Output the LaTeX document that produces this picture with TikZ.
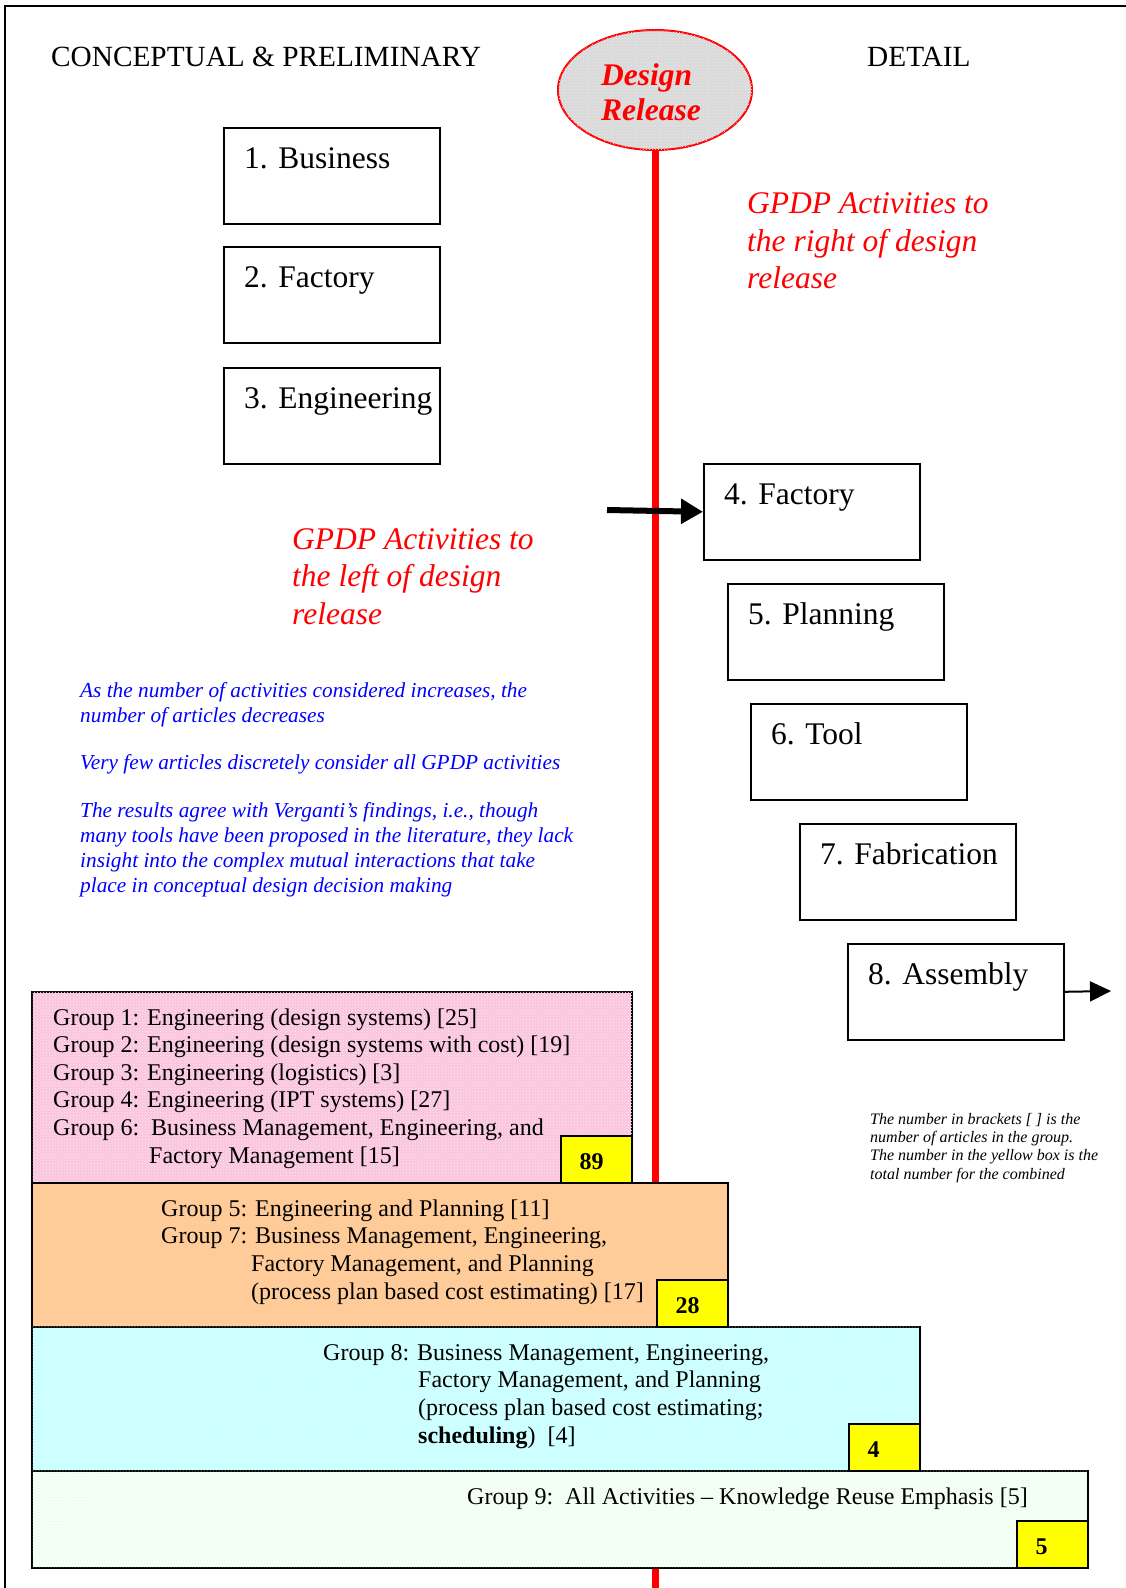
\documentclass[tikz,border=0pt]{standalone}
\usepackage{fontspec}
\setmainfont{Liberation Serif}
\usetikzlibrary{arrows.meta,patterns,shapes.geometric}

\definecolor{relred}{RGB}{255,0,0}
\definecolor{notebl}{RGB}{0,0,255}
\definecolor{pinkfill}{RGB}{250,196,222}
\definecolor{orangefill}{RGB}{255,204,153}
\definecolor{cyanfill}{RGB}{204,255,255}
\definecolor{greenfill}{RGB}{246,255,246}
\definecolor{greendot}{RGB}{200,250,200}
\definecolor{numyellow}{RGB}{255,255,0}

\newcommand{\fsz}[2]{\fontsize{#1}{#2}\selectfont}

\begin{document}
\begin{tikzpicture}[x=1pt,y=-1pt,
  stagebox/.style={draw,line width=1.6pt,minimum width=216pt,minimum height=96pt,
    inner sep=0pt,anchor=north west},
  stagelabel/.style={anchor=base west,inner sep=0pt,font=\fsz{31.5}{36}},
  heading/.style={anchor=base west,inner sep=0pt,font=\fsz{29.3}{33}},
  % multi-line blocks are placed by the baseline of their last line
  redtext/.style={anchor=base west,inner sep=0pt,align=left,text=relred,
    font=\fsz{31.5}{37.5}\itshape},
  groupbox/.style={draw,line width=1.6pt,inner sep=0pt,anchor=north west},
  grouptext/.style={anchor=base west,inner sep=0pt,align=left,font=\fsz{24}{27.6}},
  countbox/.style={draw,line width=1.6pt,fill=numyellow,inner sep=0pt,
    minimum width=71pt,minimum height=47pt,anchor=south east},
  countnum/.style={anchor=base west,inner sep=0pt,font=\fsz{24}{27}\bfseries},
]
\useasboundingbox (0,0) rectangle (1126,1588);

% page frame
\draw[line width=2.5pt] (5,1588) -- (5,6) -- (1126,6);

% design release marker and its line
\node[ellipse,draw=relred,line width=2pt,fill=gray!30,
  postaction={pattern=crosshatch dots,pattern color=white!85!gray},
  minimum width=194pt,minimum height=120pt,inner sep=0pt] (dr) at (655,90) {};
\coordinate (lineend) at (655,1588);
\draw[relred,line width=7pt] (dr.south) -- (lineend);
\node[inner sep=0pt,align=left,text=relred,font=\fsz{31.5}{35}\bfseries\itshape]
  (drtext) at (651,92) {Design\\Release};

% column headings
\node[heading] (hleft) at (51,66) {CONCEPTUAL \& PRELIMINARY};
\node[heading] (hright) at (867,66) {DETAIL};

% activity boxes
\node[stagebox] (b1) at (223,127) {};
\node[stagebox] (b2) at (223,246) {};
\node[stagebox] (b3) at (223,367) {};
\node[stagebox] (b4) at (703,463) {};
\node[stagebox] (b5) at (727,583) {};
\node[stagebox] (b6) at (750,703) {};
\node[stagebox] (b7) at (799,823) {};
\node[stagebox] (b8) at (847,943) {};
\path (b1.north west) ++(21,41) node[stagelabel] (l1) {1. Business};
\path (b2.north west) ++(21,41) node[stagelabel] (l2) {2. Factory};
\path (b3.north west) ++(21,41) node[stagelabel] (l3) {3. Engineering};
\path (b4.north west) ++(21,41) node[stagelabel] (l4) {4. Factory};
\path (b5.north west) ++(21,41) node[stagelabel] (l5) {5. Planning};
\path (b6.north west) ++(21,41) node[stagelabel] (l6) {6. Tool};
\path (b7.north west) ++(21,41) node[stagelabel] (l7) {7. Fabrication};
\path (b8.north west) ++(21,41) node[stagelabel] (l8) {8. Assembly};

% arrows
\coordinate (a4start) at (607,510);
\draw[line width=6pt,-{Triangle[length=22pt,width=24pt]}] (a4start) -- (b4.west);
\coordinate (a8end) at (1111,991);
\draw[line width=2pt,-{Triangle[length=21pt,width=20pt]}] (b8.east) -- (a8end);

% red captions
\node[redtext] (rright) at (747,288.5) {GPDP Activities to\\the right of design\\release};
\node[redtext] (rleft) at (292,624) {GPDP Activities to\\the left of design\\release};

% blue remarks
\node[anchor=base west,inner sep=0pt,align=left,text=notebl,font=\fsz{21.3}{24.8}\itshape]
  (remarks) at (80,892) {As the number of activities considered increases, the\\
  number of articles decreases\\[23pt]
  Very few articles discretely consider all GPDP activities\\[23pt]
  The results agree with Verganti’s findings, i.e., though\\
  many tools have been proposed in the literature, they lack\\
  insight into the complex mutual interactions that take\\
  place in conceptual design decision making};

% legend note
\node[anchor=base west,inner sep=0pt,align=left,font=\fsz{16}{18.3}\itshape]
  (legend) at (870,1179) {The number in brackets [ ] is the\\
  number of articles in the group.\\
  The number in the yellow box is the\\
  total number for the combined};

% article groups
\node[groupbox,fill=pinkfill,postaction={pattern=crosshatch dots,pattern color=white!70!pinkfill},
  minimum width=600pt,minimum height=191pt] (g1) at (31,991) {};
\node[groupbox,fill=orangefill,minimum width=696pt,minimum height=144pt] (g2) at (31,1182) {};
\node[groupbox,fill=cyanfill,postaction={pattern=dots,pattern color=white!60!cyanfill},
  minimum width=888pt,minimum height=144pt] (g3) at (31,1326) {};
\node[groupbox,fill=greenfill,postaction={pattern=dots,pattern color=greendot},
  minimum width=1056pt,minimum height=97pt] (g4) at (31,1470) {};

% totals in the corner of each group
\node[countbox] (c1) at (g1.south east) {};
\node[countbox] (c2) at (g2.south east) {};
\node[countbox] (c3) at (g3.south east) {};
\node[countbox] (c4) at (g4.south east) {};
\path (c1.south west) ++(19.5,-14) node[countnum] (n1) {89};
\path (c2.south west) ++(19.5,-14) node[countnum] (n2) {28};
\path (c3.south west) ++(19.5,-14) node[countnum] (n3) {4};
\path (c4.south west) ++(19.5,-14) node[countnum] (n4) {5};

\node[grouptext] (t1) at (53,1163) {Group 1: Engineering (design systems) [25]\\
  Group 2: Engineering (design systems with cost) [19]\\
  Group 3: Engineering (logistics) [3]\\
  Group 4: Engineering (IPT systems) [27]\\
  Group 6:\ \ Business Management, Engineering, and\\
  \hspace*{96pt}Factory Management [15]};
\node[grouptext] (t2) at (161,1299) {Group 5: Engineering and Planning [11]\\
  Group 7: Business Management, Engineering,\\
  \hspace*{90pt}Factory Management, and Planning\\
  \hspace*{90pt}(process plan based cost estimating) [17]};
\node[grouptext] (t3) at (323,1443) {Group 8: Business Management, Engineering,\\
  \hspace*{95pt}Factory Management, and Planning\\
  \hspace*{95pt}(process plan based cost estimating;\\
  \hspace*{95pt}\textbf{scheduling})\ \ [4]};
\node[grouptext] (t4) at (467,1504) {Group 9:\ \ All Activities – Knowledge Reuse Emphasis [5]};
\end{tikzpicture}
\end{document}
